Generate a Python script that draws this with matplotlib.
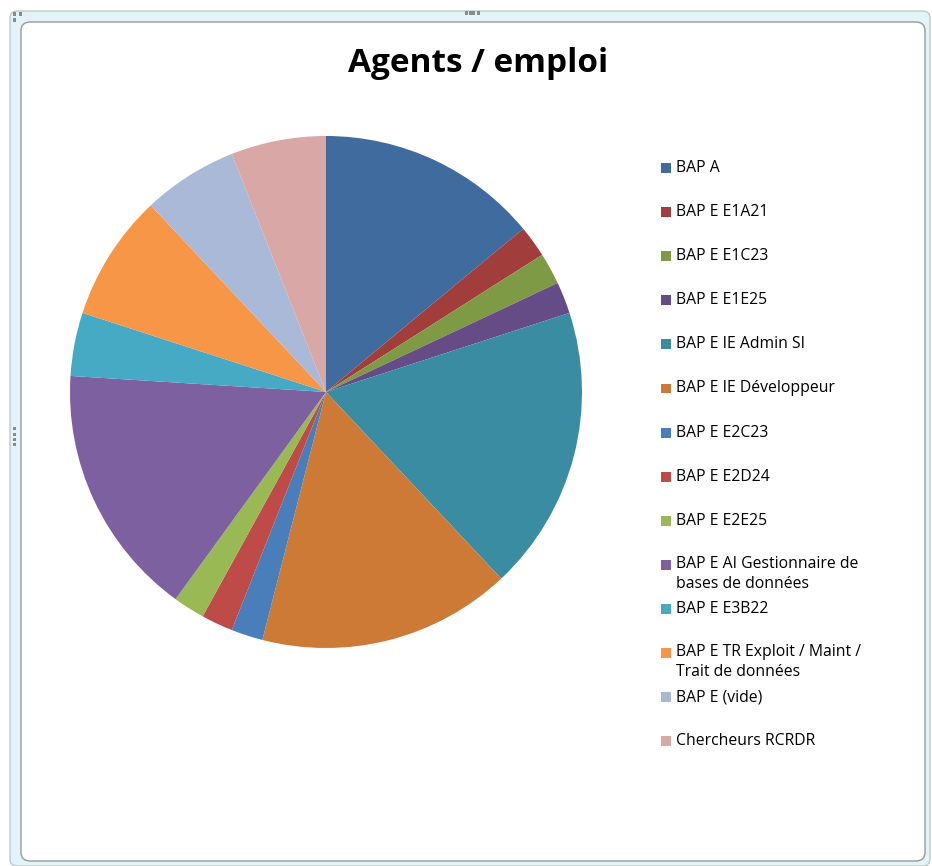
import matplotlib
matplotlib.use("Agg")
import matplotlib.pyplot as plt
from matplotlib.patches import FancyBboxPatch, Rectangle

labels = ["BAP A", "BAP E E1A21", "BAP E E1C23", "BAP E E1E25", "BAP E IE Admin SI",
          "BAP E IE Développeur", "BAP E E2C23", "BAP E E2D24", "BAP E E2E25",
          "BAP E AI Gestionnaire de\nbases de données", "BAP E E3B22",
          "BAP E TR Exploit / Maint /\nTrait de données", "BAP E (vide)", "Chercheurs RCRDR"]
values = [7, 1, 1, 1, 9, 8, 1, 1, 1, 8, 2, 4, 3, 3]
colors = ["#3F6B9E", "#A13D3B", "#7F9A45", "#654C86", "#3A8CA3", "#CD7A37", "#4A7EBB",
          "#BE4B48", "#98B954", "#7D60A0", "#47AAC5", "#F79646", "#A9B9D7", "#D9A7A6"]

W, H = 932, 866
fig = plt.figure(figsize=(W / 100, H / 100), dpi=100)
fig.patch.set_facecolor("white")

def fx(x):
    return x / W

def fy(y):
    return 1 - y / H

# frame
outer = FancyBboxPatch((fx(10), fy(866)), fx(920), fy(11) - fy(866),
                       boxstyle="round,pad=0,rounding_size=0.008", transform=fig.transFigure,
                       facecolor="#E2F4F7", edgecolor="#BFCBCC", linewidth=1, zorder=0)
fig.patches.append(outer)
inner = FancyBboxPatch((fx(21), fy(861)), fx(904), fy(22) - fy(861),
                       boxstyle="round,pad=0,rounding_size=0.01", transform=fig.transFigure,
                       facecolor="white", edgecolor="#9A9A9A", linewidth=1, zorder=0.5)
fig.patches.append(inner)
# sizing handles
for (hx, hy) in [(14, 14), (20, 14), (14, 20), (466, 13), (470, 13), (474, 13), (478, 13),
                 (14, 429), (14, 434), (14, 439), (14, 444)]:
    fig.patches.append(Rectangle((fx(hx - 1.5), fy(hy + 1.5)), fx(3), fy(0) - fy(3),
                                 transform=fig.transFigure, facecolor="#8A8A8A",
                                 edgecolor="none", zorder=1))

# pie
cx, cy, r = 326, 392, 256
ax = fig.add_axes([fx(cx - r), fy(cy + r), fx(2 * r), fy(0) - fy(2 * r)], zorder=5)
ax.patch.set_visible(False)
ax.pie(values, colors=colors, startangle=90, counterclock=False, radius=1,
       wedgeprops=dict(linewidth=0))
ax.set_xlim(-1, 1)
ax.set_ylim(-1, 1)
ax.set_aspect("equal")
ax.axis("off")

fig.text(fx(478), fy(64), "Agents / emploi", ha="center", va="center",
         fontsize=24, fontweight="bold", family="Open Sans", color="black", zorder=6)

# legend
y0 = 168
step = 44.1
for i, (lab, col) in enumerate(zip(labels, colors)):
    y = y0 + i * step
    fig.patches.append(Rectangle((fx(661), fy(y + 5)), fx(10), fy(0) - fy(10),
                                 transform=fig.transFigure, facecolor=col,
                                 edgecolor="none", zorder=2))
    multi = "\n" in lab
    fig.text(fx(676), fy(y - 9) if multi else fy(y), lab, ha="left",
             va="top" if multi else "center",
             fontsize=11.3, family="Open Sans", color="black", linespacing=1.3, zorder=6)

fig.savefig("out.png", dpi=100, facecolor="white")
